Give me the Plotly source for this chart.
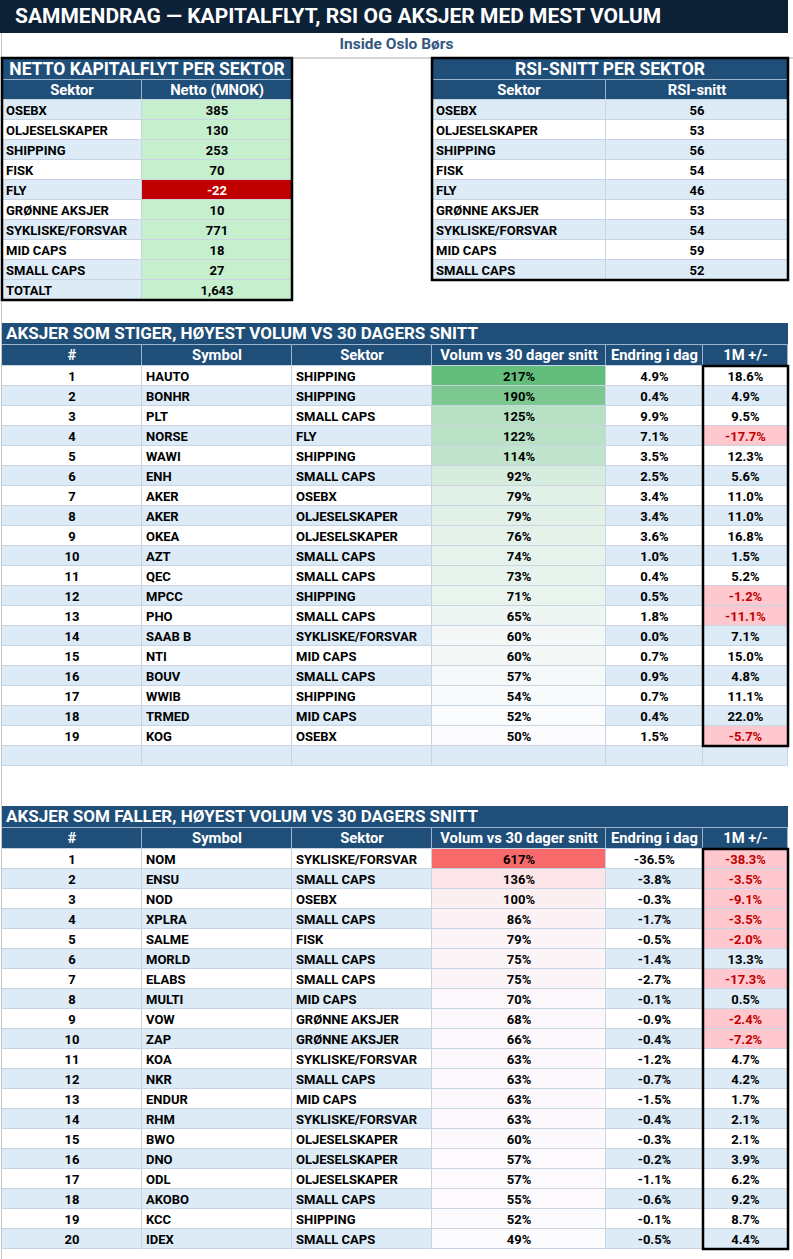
import plotly.graph_objects as go

# Sektorer og tall for sammendraget
sektorer = ["OSEBX", "OLJESELSKAPER", "SHIPPING", "FISK", "FLY", "GRØNNE AKSJER",
            "SYKLISKE/FORSVAR", "MID CAPS", "SMALL CAPS"]
netto_mnok = [385, 130, 253, 70, -22, 10, 771, 18, 27]
netto_totalt = 1643
rsi_snitt = [56, 53, 56, 54, 46, 53, 54, 59, 52]

# Aksjer som stiger
opp_symbol = ["HAUTO", "BONHR", "PLT", "NORSE", "WAWI", "ENH", "AKER", "AKER", "OKEA", "AZT",
              "QEC", "MPCC", "PHO", "SAAB B", "NTI", "BOUV", "WWIB", "TRMED", "KOG"]
opp_sektor = ["SHIPPING", "SHIPPING", "SMALL CAPS", "FLY", "SHIPPING", "SMALL CAPS", "OSEBX",
              "OLJESELSKAPER", "OLJESELSKAPER", "SMALL CAPS", "SMALL CAPS", "SHIPPING", "SMALL CAPS",
              "SYKLISKE/FORSVAR", "MID CAPS", "SMALL CAPS", "SHIPPING", "MID CAPS", "OSEBX"]
opp_volum = [217, 190, 125, 122, 114, 92, 79, 79, 76, 74, 73, 71, 65, 60, 60, 57, 54, 52, 50]
opp_endring = [4.9, 0.4, 9.9, 7.1, 3.5, 2.5, 3.4, 3.4, 3.6, 1.0, 0.4, 0.5, 1.8, 0.0, 0.7, 0.9, 0.7, 0.4, 1.5]
opp_1m = [18.6, 4.9, 9.5, -17.7, 12.3, 5.6, 11.0, 11.0, 16.8, 1.5, 5.2, -1.2, -11.1, 7.1, 15.0,
          4.8, 11.1, 22.0, -5.7]

# Aksjer som faller
ned_symbol = ["NOM", "ENSU", "NOD", "XPLRA", "SALME", "MORLD", "ELABS", "MULTI", "VOW", "ZAP",
              "KOA", "NKR", "ENDUR", "RHM", "BWO", "DNO", "ODL", "AKOBO", "KCC", "IDEX"]
ned_sektor = ["SYKLISKE/FORSVAR", "SMALL CAPS", "OSEBX", "SMALL CAPS", "FISK", "SMALL CAPS",
              "SMALL CAPS", "MID CAPS", "GRØNNE AKSJER", "GRØNNE AKSJER", "SYKLISKE/FORSVAR",
              "SMALL CAPS", "MID CAPS", "SYKLISKE/FORSVAR", "OLJESELSKAPER", "OLJESELSKAPER",
              "OLJESELSKAPER", "SMALL CAPS", "SHIPPING", "SMALL CAPS"]
ned_volum = [617, 136, 100, 86, 79, 75, 75, 70, 68, 66, 63, 63, 63, 63, 60, 57, 57, 55, 52, 49]
ned_endring = [-36.5, -3.8, -0.3, -1.7, -0.5, -1.4, -2.7, -0.1, -0.9, -0.4, -1.2, -0.7, -1.5,
               -0.4, -0.3, -0.2, -1.1, -0.6, -0.1, -0.5]
ned_1m = [-38.3, -3.5, -9.1, -3.5, -2.0, 13.3, -17.3, 0.5, -2.4, -7.2, 4.7, 4.2, 1.7, 2.1, 2.1,
          3.9, 6.2, 9.2, 8.7, 4.4]

kolonner = ["#", "Symbol", "Sektor", "Volum vs 30 dager snitt", "Endring i dag", "1M +/-"]

W, H = 793, 1259
NAVY = "#0C2036"
BLUE = "#1F4E78"
LIGHT = "#DDEBF7"
GRID = "#C9D4E2"
HLINE = "#9DB4CC"
FONT = "Roboto"
RAD = 20  # radhøyde i regnearket (px)
DY = 1.5  # teksten står litt lavt i cellene, som i regnearket

fig = go.Figure()
shapes = []


def hex_rgb(h):
    h = h.lstrip("#")
    return [int(h[i:i + 2], 16) for i in (0, 2, 4)]


def skala(v, vmin, vmax, topp):
    # Excel-lignende to-farget fargeskala (hvit -> topp)
    t = (v - vmin) / (vmax - vmin)
    a = hex_rgb("#FCFCFF")
    b = hex_rgb(topp)
    c = [round(a[i] + (b[i] - a[i]) * t) for i in range(3)]
    return f"rgb({c[0]},{c[1]},{c[2]})"


def rad_farge(i):
    return "white" if i % 2 == 0 else LIGHT


def celler(x0, x1, y_top, hoyde, fills, linje=GRID, lw=1):
    # en kolonne med celler, tegnet som liggende stolper
    n = len(fills)
    fig.add_trace(go.Bar(
        orientation="h", y=[y_top + hoyde * i + hoyde / 2 for i in range(n)],
        x=[x1 - x0] * n, base=[x0] * n, width=[hoyde] * n,
        marker=dict(color=fills, line=dict(color=linje, width=lw)),
        hoverinfo="skip", showlegend=False))


def tekst(x0, x1, y_top, hoyde, txt, farge="black", size=13, align="center", dy=DY):
    n = len(txt)
    if align == "left":
        xs, pos = [x0 + 4] * n, "middle right"
    else:
        xs, pos = [(x0 + x1) / 2] * n, "middle center"
    fig.add_trace(go.Scatter(
        x=xs, y=[y_top + hoyde * i + hoyde / 2 + dy for i in range(n)], text=txt,
        mode="text", textposition=pos, cliponaxis=False,
        textfont=dict(family=FONT, size=size, color=farge, weight="bold"),
        hoverinfo="skip", showlegend=False))


def ramme(x0, x1, y0, y1, w=2.5):
    shapes.append(dict(type="rect", xref="x", yref="y", x0=x0, x1=x1, y0=y0, y1=y1,
                       line=dict(color="black", width=w), fillcolor="rgba(0,0,0,0)", layer="above"))


def tittel(x0, x1, y0, y1, txt, size, farge, align="left", pad=4):
    celler(x0, x1, y0, y1 - y0, [farge], linje=farge, lw=0)
    if align == "left":
        tekst(x0 + pad - 4, x1, y0, y1 - y0, [txt], "white", size, "left", dy=1)
    else:
        tekst(x0, x1, y0, y1 - y0, [txt], "white", size, "center", dy=1)


def header(kanter, y0, hoyde, navn):
    for k in range(len(navn)):
        celler(kanter[k], kanter[k + 1], y0, hoyde, [BLUE], linje=HLINE)
        tekst(kanter[k], kanter[k + 1], y0, hoyde, [navn[k]], "white", 14.8, "center", dy=1)


# hovedtittel
tittel(0, 788, 0, 33, "SAMMENDRAG — KAPITALFLYT, RSI OG AKSJER MED MEST VOLUM", 21, NAVY, pad=15)
tekst(0, W, 34, 22, ["Inside Oslo Børs"], "#34577F", 15.5, "center", dy=0)
shapes.append(dict(type="line", xref="x", yref="y", x0=0, x1=W, y0=58, y1=58,
                   line=dict(color="#B0B0B0", width=1)))
shapes.append(dict(type="line", xref="x", yref="y", x0=1.5, x1=1.5, y0=33, y1=H,
                   line=dict(color="#C8C8C8", width=1)))

# NETTO KAPITALFLYT PER SEKTOR
nk = [2, 142, 292]
tittel(nk[0], nk[2], 59, 80, "NETTO KAPITALFLYT PER SEKTOR", 17.5, BLUE, align="center")
header(nk, 80, 20, ["Sektor", "Netto (MNOK)"])
netto_rader = sektorer + ["TOTALT"]
sek_fill = [LIGHT if i % 2 == 0 else "white" for i in range(len(sektorer))] + [LIGHT]
netto_fill = ["#C00000" if v < 0 else "#C6EFCE" for v in netto_mnok] + ["#C6EFCE"]
netto_font = ["white" if v < 0 else "black" for v in netto_mnok] + ["black"]
celler(nk[0], nk[1], 100, RAD, sek_fill)
celler(nk[1], nk[2], 100, RAD, netto_fill)
tekst(nk[0], nk[1], 100, RAD, netto_rader, align="left")
tekst(nk[1], nk[2], 100, RAD, [f"{v:,}" for v in netto_mnok] + [f"{netto_totalt:,}"], netto_font)
ramme(nk[0], nk[2], 58, 100 + RAD * len(netto_rader))

# RSI-SNITT PER SEKTOR
rk = [432, 606, 788]
tittel(rk[0], rk[2], 59, 80, "RSI-SNITT PER SEKTOR", 17.5, BLUE, align="center")
header(rk, 80, 20, ["Sektor", "RSI-snitt"])
rsi_fill = [LIGHT if i % 2 == 0 else "white" for i in range(len(sektorer))]
celler(rk[0], rk[1], 100, RAD, rsi_fill)
celler(rk[1], rk[2], 100, RAD, rsi_fill)
tekst(rk[0], rk[1], 100, RAD, sektorer, align="left")
tekst(rk[1], rk[2], 100, RAD, [str(v) for v in rsi_snitt])
ramme(rk[0], rk[2], 58, 100 + RAD * len(sektorer))


def aksje_tabell(tittel_txt, symbol, sektor, volum, endring, m1, topp, y0, tomme=0):
    ak = [2, 142, 292, 432, 606, 703, 788]
    tittel(ak[0], ak[-1], y0, y0 + 22, tittel_txt, 17, BLUE, pad=4)
    header(ak, y0 + 22, 21, kolonner)
    top = y0 + 43
    n = len(symbol)
    rows = n + tomme
    alt = [rad_farge(i) for i in range(rows)]
    vmin, vmax = min(volum), max(volum)
    vol_fill = [skala(v, vmin, vmax, topp) for v in volum] + alt[n:]
    m1_fill = ["#FFC7CE" if v < 0 else rad_farge(i) for i, v in enumerate(m1)] + alt[n:]
    m1_font = ["#C00000" if v < 0 else "black" for v in m1]
    for k, f in enumerate([alt, alt, alt, vol_fill, alt, m1_fill]):
        celler(ak[k], ak[k + 1], top, RAD, f)
    tekst(ak[0], ak[1], top, RAD, [str(i + 1) for i in range(n)])
    tekst(ak[1], ak[2], top, RAD, symbol, align="left")
    tekst(ak[2], ak[3], top, RAD, sektor, align="left")
    tekst(ak[3], ak[4], top, RAD, [f"{v}%" for v in volum])
    tekst(ak[4], ak[5], top, RAD, [f"{v:.1f}%" for v in endring])
    tekst(ak[5], ak[6], top, RAD, [f"{v:.1f}%" for v in m1], m1_font)
    ramme(ak[5], ak[6], top, top + RAD * n)


aksje_tabell("AKSJER SOM STIGER, HØYEST VOLUM VS 30 DAGERS SNITT",
             opp_symbol, opp_sektor, opp_volum, opp_endring, opp_1m, "#63BE7B", 323, tomme=1)
aksje_tabell("AKSJER SOM FALLER, HØYEST VOLUM VS 30 DAGERS SNITT",
             ned_symbol, ned_sektor, ned_volum, ned_endring, ned_1m, "#F8696B", 806)

fig.update_layout(width=W, height=H, margin=dict(l=0, r=0, t=0, b=0),
                  paper_bgcolor="white", plot_bgcolor="white", barmode="overlay",
                  bargap=0, shapes=shapes, showlegend=False,
                  xaxis=dict(range=[0, W], visible=False, fixedrange=True),
                  yaxis=dict(range=[H, 0], visible=False, fixedrange=True))

fig.write_html("out.html", config={"displayModeBar": False},
               post_script="document.body.style.margin='0';")
